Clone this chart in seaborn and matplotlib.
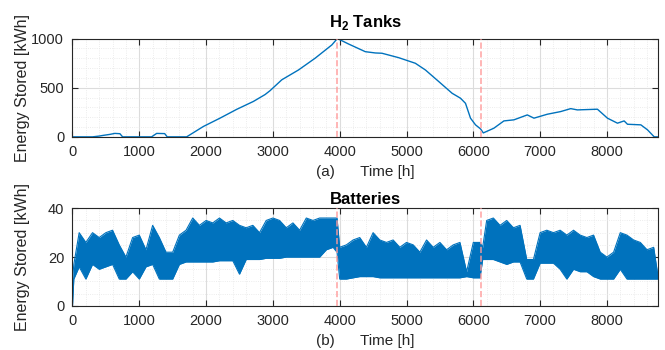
import numpy as np
import pandas as pd
import matplotlib
matplotlib.use("Agg")
import matplotlib.pyplot as plt
from matplotlib.ticker import MultipleLocator
import seaborn as sns

# H2 tank energy (kWh) over the year
tank_hours = [0, 300, 400, 460, 560, 634, 710, 750, 1000, 1184, 1260, 1380, 1418,
              1709, 1958, 2208, 2459, 2708, 2883, 2958, 3133, 3383, 3633, 3883, 3965,
              4133, 4383, 4533, 4633, 4883, 5133, 5283, 5483, 5683, 5808, 5883, 5958,
              6033, 6108, 6150, 6308, 6458, 6608, 6808, 6908, 7108, 7308, 7458, 7558,
              7858, 8008, 8158, 8258, 8308, 8508, 8608, 8708, 8760]
tank_energy = [0, 0, 8, 15, 25, 35, 32, 0, 0, 0, 35, 33, 0,
               0, 105, 190, 280, 360, 430, 470, 580, 680, 800, 935, 1000,
               944, 866, 853, 850, 805, 748, 680, 562, 443, 393, 341, 190,
               122, 81, 40, 88, 162, 173, 223, 190, 230, 257, 287, 274,
               281, 190, 139, 162, 128, 122, 71, 0, 0]

# battery band: upper / lower envelope of the hourly state of charge (kWh)
batt_hours = [0, 20, 100, 200, 300, 400, 500, 600, 700, 800, 900, 1000, 1100, 1200,
              1300, 1400, 1500, 1600, 1700, 1800, 1900, 2000, 2100, 2200, 2300, 2400,
              2500, 2600, 2700, 2800, 2900, 3000, 3100, 3200, 3300, 3400, 3500, 3600,
              3700, 3800, 3900, 3960, 4000, 4100, 4200, 4300, 4400, 4500, 4600, 4700,
              4800, 4900, 5000, 5100, 5200, 5300, 5400, 5500, 5600, 5700, 5800, 5900,
              6000, 6100, 6140, 6200, 6300, 6400, 6500, 6600, 6700, 6800, 6900, 7000,
              7100, 7200, 7300, 7400, 7500, 7600, 7700, 7800, 7900, 8000, 8100, 8200,
              8300, 8400, 8500, 8600, 8700, 8760]
batt_upper = [11, 17, 30, 26, 30, 28, 30, 31, 25, 20, 28, 29, 23, 33,
              28, 22, 22, 29, 31, 36, 33, 35, 34, 36, 34, 35,
              33, 32, 33, 30, 35, 36, 35, 32, 34, 31, 36, 35,
              36, 36, 36, 36, 24, 25, 27, 28, 24, 30, 27, 26,
              27, 24, 26, 25, 22, 27, 24, 26, 23, 25, 26, 14,
              26, 26, 24, 35, 36, 33, 35, 32, 33, 19, 19, 30,
              31, 30, 31, 29, 31, 29, 28, 29, 22, 20, 22, 30,
              29, 27, 26, 23, 24, 13]
batt_lower = [0, 11, 16, 11, 17, 15, 16, 17, 11, 11, 14, 11, 16, 17,
              11, 11, 11, 17, 18, 18, 18, 18, 18, 18.5, 18.5, 18.5,
              13, 19, 19, 19, 19.5, 19.5, 19.5, 20, 20, 20, 20, 20,
              20, 23, 24, 22, 11, 11, 11.5, 12, 12, 12, 11.5, 11.5,
              11.5, 11.5, 11.5, 11.5, 11.5, 11.5, 11.5, 11.5, 11.5, 11.5, 11.5, 12,
              11.5, 11.5, 19, 19, 19, 18, 17, 18, 18, 11, 11, 17.5,
              17.5, 17.5, 15, 11, 15, 14, 14, 12, 11, 11, 11, 15,
              11, 11, 11, 11, 11, 11]

event_hours = [3965, 6120]

BLUE = "#0072BD"

sns.set_style("ticks")
plt.rcParams["font.family"] = ["Liberation Sans", "DejaVu Sans"]
plt.rcParams["mathtext.fontset"] = "custom"
plt.rcParams["mathtext.bf"] = "Liberation Sans:bold"
plt.rcParams["mathtext.rm"] = "Liberation Sans"

fig = plt.figure(figsize=(6.65, 3.5), dpi=100)
ax1 = fig.add_axes([0.109, 0.609, 0.880, 0.281])
ax2 = fig.add_axes([0.109, 0.126, 0.880, 0.279])

tanks = pd.DataFrame({"hour": tank_hours, "energy": tank_energy})
sns.lineplot(data=tanks, x="hour", y="energy", ax=ax1, color=BLUE, lw=1.0)

batt = pd.DataFrame({"hour": batt_hours, "upper": batt_upper, "lower": batt_lower})
ax2.fill_between(batt["hour"], batt["lower"], batt["upper"], color=BLUE, lw=0)
sns.lineplot(data=batt, x="hour", y="upper", ax=ax2, color=BLUE, lw=0.8)
sns.lineplot(data=batt, x="hour", y="lower", ax=ax2, color=BLUE, lw=0.8)


def style(ax, ymax, ymaj, ymin, title, xlab, tpad):
    ax.set_xlim(0, 8760)
    ax.set_ylim(0, ymax)
    ax.xaxis.set_major_locator(MultipleLocator(1000))
    ax.xaxis.set_minor_locator(MultipleLocator(200))
    ax.yaxis.set_major_locator(MultipleLocator(ymaj))
    ax.yaxis.set_minor_locator(MultipleLocator(ymin))
    ax.grid(True, which="major", color="#dcdcdc", lw=0.8)
    ax.grid(True, which="minor", color="#e6e6e6", lw=0.6, ls=":")
    ax.set_axisbelow(True)
    ax.tick_params(which="major", direction="in", length=4, width=0.8, pad=6,
                   top=True, right=True, labelsize=10.5, colors="#262626")
    ax.tick_params(which="minor", length=0, top=True, right=True)
    for s in ax.spines.values():
        s.set_color("#262626")
        s.set_linewidth(0.8)
    for h in event_hours:
        ax.axvline(h, color="#ff9a9a", ls="--", lw=1.2, alpha=0.85, zorder=3)
    ax.set_title(title, fontsize=12, fontweight="bold", color="black", pad=tpad)
    ax.set_xlabel(xlab, fontsize=11, color="#262626", labelpad=4)
    ax.set_ylabel("Energy Stored [kWh]", fontsize=11.5, color="#262626")


style(ax1, 1000, 500, 100, r"H$_\mathbf{2}$ Tanks", "(a)      Time [h]", 8)
style(ax2, 40, 20, 5, "Batteries", "(b)      Time [h]", 3)
ax1.yaxis.set_label_coords(-0.072, 0.5)
ax2.yaxis.set_label_coords(-0.072, 0.5)

fig.savefig("out.png", dpi=100)
